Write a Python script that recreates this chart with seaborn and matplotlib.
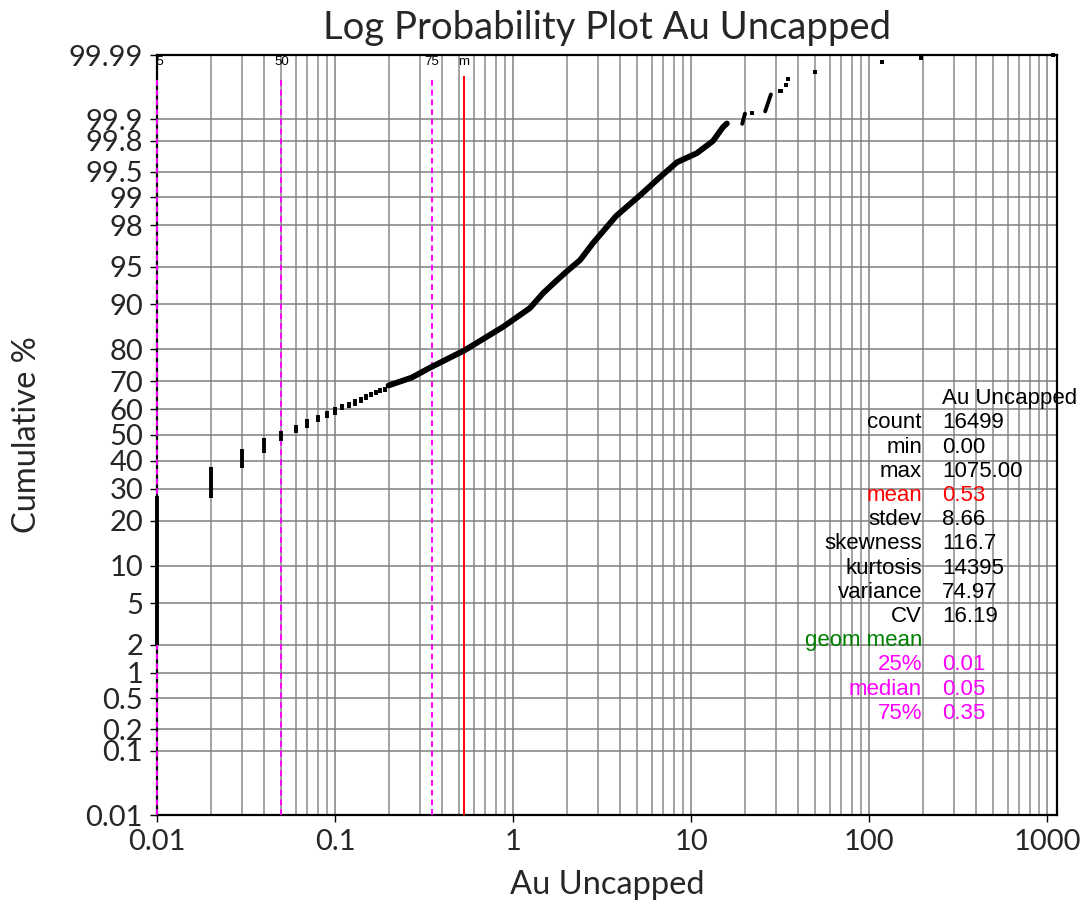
import numpy as np
import matplotlib
matplotlib.use("Agg")
import matplotlib.pyplot as plt
import matplotlib.ticker as mticker
import seaborn as sns
from statistics import NormalDist

# ---------------- data ----------------
# discrete low values: vertical runs of samples (value, cum% low, cum% high)
step_val = [0.01, 0.02, 0.03, 0.04, 0.05, 0.06, 0.07, 0.08, 0.09, 0.10,
            0.11, 0.12, 0.13, 0.14, 0.15, 0.16, 0.17, 0.18, 0.19]
step_lo = [2.0, 26.8, 37.2, 43.2, 47.5, 50.6, 52.9, 54.9, 56.6, 57.8,
           59.6, 60.3, 61.1, 62.2, 63.4, 64.4, 65.2, 65.8, 66.4]
step_hi = [27.5, 37.6, 44.5, 48.7, 51.5, 53.8, 56.1, 57.6, 59.4, 60.7,
           61.9, 62.8, 63.6, 64.6, 65.6, 66.4, 67.0, 67.6, 68.1]

# continuous part of the cumulative curve
curve_x = [0.20, 0.27, 0.342, 0.537, 0.879, 1.246, 1.476, 1.744, 2.04, 2.38,
           2.81, 3.79, 5.17, 6.70, 8.34, 10.8, 13.3, 15.1, 15.9]
curve_p = [68.6, 71.3, 74.5, 79.7, 85.5, 89.3, 91.75, 93.4, 94.66, 95.65,
           96.97, 98.39, 99.05, 99.42, 99.62, 99.71, 99.80, 99.87, 99.885]

# short runs in the upper tail (start value, start %, end value, end %)
run_x0 = [19.4, 26.1]
run_p0 = [99.884, 99.923]
run_x1 = [20.1, 28.1]
run_p1 = [99.917, 99.957]

# isolated high samples
tail_x = [22.1, 31.8, 34.2, 34.9, 49.8, 118.0, 196.0, 1075.0]
tail_p = [99.919, 99.962, 99.969, 99.975, 99.981, 99.987, 99.989, 99.990]

# reference lines
ref_names = ["25", "50", "75", "m"]
ref_vals = [0.01, 0.05, 0.35, 0.53]
ref_colors = ["#ff00ff", "#ff00ff", "#ff00ff", "#ff0000"]
ref_styles = [(0, (3, 2)), (0, (3, 2)), (0, (3, 2)), "-"]

# statistics table
stat_names = ["count", "min", "max", "mean", "stdev", "skewness", "kurtosis",
              "variance", "CV", "geom mean", "25%", "median", "75%"]
stat_values = ["16499", "0.00", "1075.00", "0.53", "8.66", "116.7", "14395",
               "74.97", "16.19", "", "0.01", "0.05", "0.35"]
stat_colors = ["black", "black", "black", "#ff0000", "black", "black", "black",
               "black", "black", "#008000", "#ff00ff", "#ff00ff", "#ff00ff"]

y_ticks = [0.01, 0.1, 0.2, 0.5, 1, 2, 5, 10, 20, 30, 40, 50, 60, 70, 80, 90,
           95, 98, 99, 99.5, 99.8, 99.9, 99.99]
y_tick_labels = ["0.01", "0.1", "0.2", "0.5", "1", "2", "5", "10", "20", "30",
                 "40", "50", "60", "70", "80", "90", "95", "98", "99", "99.5",
                 "99.8", "99.9", "99.99"]
x_ticks = [0.01, 0.1, 1, 10, 100, 1000]
x_tick_labels = ["0.01", "0.1", "1", "10", "100", "1000"]

# ---------------- probability scale ----------------
_nd = NormalDist()
_ppf = np.vectorize(lambda q: _nd.inv_cdf(q) if np.isfinite(q) else np.nan, otypes=[float])
_cdf = np.vectorize(lambda z: _nd.cdf(z) if not np.isnan(z) else np.nan, otypes=[float])


def prob_forward(p):
    p = np.asarray(p, dtype=float)
    q = np.clip(p / 100.0, 1e-12, 1 - 1e-12)
    return _ppf(q)


def prob_inverse(z):
    z = np.asarray(z, dtype=float)
    return 100.0 * _cdf(z)


# ---------------- figure ----------------
sns.set_style("white")
plt.rcParams["font.family"] = ["Lato", "DejaVu Sans"]

fig = plt.figure(figsize=(10.81, 9.05), dpi=100)
ax = fig.add_axes([157 / 1081, 90 / 905, 900 / 1081, 760 / 905])

ax.set_xscale("log")
ax.set_yscale("function", functions=(prob_forward, prob_inverse))
ax.set_xlim(0.01, 1138)
ax.set_ylim(0.01, 99.99)

# grid
ax.xaxis.set_major_locator(mticker.FixedLocator(x_ticks))
ax.xaxis.set_major_formatter(mticker.FixedFormatter(x_tick_labels))
ax.xaxis.set_minor_locator(mticker.LogLocator(base=10, subs=np.arange(2, 10)))
ax.xaxis.set_minor_formatter(mticker.NullFormatter())
ax.yaxis.set_major_locator(mticker.FixedLocator(y_ticks))
ax.yaxis.set_major_formatter(mticker.FixedFormatter(y_tick_labels))
ax.yaxis.set_minor_locator(mticker.NullLocator())
ax.grid(True, which="major", color="#808080", linewidth=1.1)
ax.grid(True, which="minor", axis="x", color="#8a8a8a", linewidth=1.1)
ax.set_axisbelow(True)

ax.tick_params(axis="both", which="major", direction="out", length=5, width=1.0,
               color="black", labelsize=21, pad=5, left=True, bottom=True)
ax.tick_params(axis="x", which="minor", length=0)
for s in ax.spines.values():
    s.set_color("black")
    s.set_linewidth(1.6)
    s.set_zorder(2.5)

# reference lines
for name, v, c, ls in zip(ref_names, ref_vals, ref_colors, ref_styles):
    ax.vlines(v, 0.01, 99.978, colors=c, linestyles=ls, linewidth=1.4, zorder=3,
              clip_on=False)
    ax.text(v, 99.9867, name, ha="center", va="center", fontsize=9.5,
            family=["Liberation Sans", "DejaVu Sans"], color="black",
            clip_on=True, zorder=4)

# data
ax.vlines(step_val, step_lo, step_hi, colors="black", linewidth=2.8, zorder=5,
          clip_on=False)
sns.lineplot(x=curve_x, y=curve_p, color="black", linewidth=4.2, sort=False,
             estimator=None, ax=ax, zorder=5)
for x0, p0, x1, p1 in zip(run_x0, run_p0, run_x1, run_p1):
    sns.lineplot(x=[x0, x1], y=[p0, p1], color="black", linewidth=2.8,
                 sort=False, estimator=None, ax=ax, zorder=5)
sns.scatterplot(x=tail_x, y=tail_p, marker="s", s=9, color="black",
                edgecolor="none", ax=ax, zorder=5, clip_on=False)

# labels
ax.set_title("Log Probability Plot Au Uncapped", fontsize=27.5, pad=11.5)
ax.set_xlabel("Au Uncapped", fontsize=23.5)
ax.set_ylabel("Cumulative %", fontsize=23.5)
ax.xaxis.set_label_coords(0.5, -0.072)
ax.yaxis.set_label_coords(-0.128, 0.5)

# statistics table
stat_font = ["Liberation Sans", "DejaVu Sans"]
x_lab = (922 - 157) / 900
x_val = (942 - 157) / 900
row0 = 396.7
dy = 24.2


def ypos(center_px):
    return (815 - (center_px + 7.5)) / 760


ax.text(x_val, ypos(row0), "Au Uncapped", transform=ax.transAxes, ha="left",
        va="baseline", fontsize=16, family=stat_font, color="black", zorder=6)
for i, (n, v, c) in enumerate(zip(stat_names, stat_values, stat_colors)):
    yy = ypos(row0 + (i + 1) * dy)
    ax.text(x_lab, yy, n, transform=ax.transAxes, ha="right", va="baseline",
            fontsize=16, family=stat_font, color=c, zorder=6)
    ax.text(x_val, yy, v, transform=ax.transAxes, ha="left", va="baseline",
            fontsize=16, family=stat_font, color=c, zorder=6)

fig.savefig("out.png", dpi=100)
